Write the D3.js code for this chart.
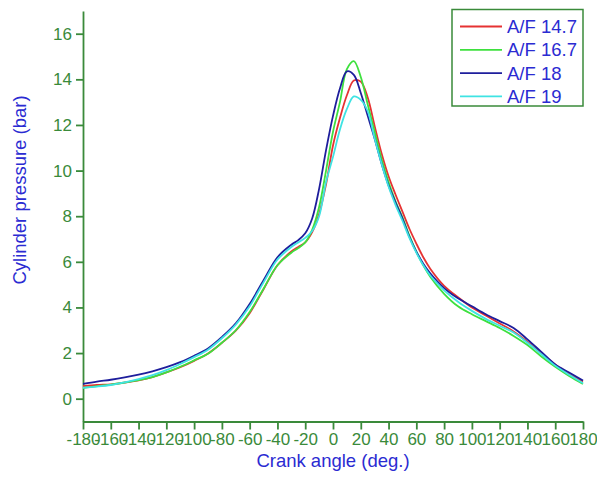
<!DOCTYPE html>
<html>
  <head>
    <meta charset="utf-8">
    <title>Cylinder pressure vs crank angle</title>
    <script src="https://d3js.org/d3.v7.min.js"></script>
    <style>
      body { margin: 0; background: #fff; }
      text { font-family: "Liberation Sans", Arial, sans-serif; }
    </style>
  </head>
  <body>
    <div id="chart"></div>
    <script>
    // crank angle grid (deg.)
    const angles = [-180,-170,-160,-150,-140,-130,-120,-110,-100,-90,-80,-70,-60,-50,-40,-30,-25,-20,-15,-10,-5,0,5,10,15,20,25,30,35,40,45,50,55,60,65,70,80,90,100,110,120,130,140,150,160,170,180];

    // cylinder pressure (bar)
    const af147 = [0.55,0.6,0.63,0.7,0.8,0.95,1.15,1.38,1.66,1.98,2.45,2.98,3.75,4.8,5.85,6.45,6.65,6.85,7.3,8.1,9.4,11.1,12.3,13.3,13.95,13.9,13.2,11.95,10.75,9.75,8.95,8.2,7.45,6.8,6.2,5.7,4.95,4.45,4.0,3.65,3.3,2.95,2.5,2.0,1.5,1.1,0.75];
    const af167 = [0.47,0.55,0.62,0.71,0.81,0.95,1.15,1.4,1.68,1.97,2.45,3.0,3.8,4.82,5.85,6.4,6.6,6.85,7.4,8.4,10.0,11.7,13.0,14.45,14.8,14.1,12.9,11.7,10.5,9.5,8.65,7.95,7.15,6.45,5.85,5.35,4.6,4.05,3.7,3.4,3.1,2.75,2.35,1.85,1.4,1.0,0.65];
    const af18 = [0.65,0.75,0.83,0.93,1.05,1.2,1.38,1.6,1.88,2.2,2.7,3.3,4.15,5.19,6.2,6.75,6.95,7.25,7.9,9.2,10.9,12.4,13.6,14.35,14.2,13.4,12.4,11.4,10.3,9.35,8.6,7.9,7.1,6.45,5.92,5.5,4.85,4.4,4.05,3.7,3.4,3.1,2.6,2.05,1.5,1.15,0.8];
    const af19 = [0.48,0.53,0.6,0.72,0.86,1.03,1.25,1.52,1.82,2.15,2.65,3.25,4.05,5.1,6.1,6.65,6.85,7.05,7.35,8.0,9.5,10.6,11.8,12.7,13.25,13.1,12.6,11.4,10.3,9.3,8.5,7.8,7.05,6.4,5.85,5.4,4.75,4.25,3.85,3.5,3.2,2.9,2.45,1.95,1.45,1.05,0.68];

    const seriesNames = ["A/F 14.7", "A/F 16.7", "A/F 18", "A/F 19"];
    const seriesValues = [af147, af167, af18, af19];
    const seriesColors = ["#e63232", "#3ee03e", "#1e1e9c", "#3fe3e3"];

    const xTicks = d3.range(-180, 181, 20);
    const yTicks = d3.range(0, 17, 2);

    const width = 597, height = 483;
    const axisGreen = "#3a8a3a";
    const titleBlue = "#2b2bd2";

    const svg = d3.select("#chart")
      .append("svg")
      .attr("width", width)
      .attr("height", height);

    const x = d3.scaleLinear().domain([-180, 180]).range([83, 583]);
    const y = d3.scaleLinear().domain([-1, 17]).range([421.5, 10.9]);

    // x axis (plain hyphen for negatives, as in the picture)
    const xAxis = svg.append("g")
      .attr("transform", "translate(0," + y(-1) + ")")
      .call(d3.axisBottom(x).tickValues(xTicks).tickFormat(d => String(d))
        .tickSize(8).tickPadding(3).tickSizeOuter(0));
    xAxis.selectAll("text")
      .attr("font-size", 17)
      .attr("fill", axisGreen)
      .attr("font-family", "Liberation Sans, Arial, sans-serif");

    // y axis
    const yAxis = svg.append("g")
      .attr("transform", "translate(" + x(-180) + ",0)")
      .call(d3.axisLeft(y).tickValues(yTicks).tickFormat(d => String(d))
        .tickSize(7).tickPadding(4).tickSizeOuter(0));
    yAxis.selectAll("text")
      .attr("font-size", 17)
      .attr("fill", axisGreen)
      .attr("font-family", "Liberation Sans, Arial, sans-serif");

    svg.selectAll(".domain, .tick line")
      .attr("stroke", axisGreen)
      .attr("stroke-width", 1.8);

    // axis titles
    svg.append("text")
      .attr("x", (x(-180) + x(180)) / 2)
      .attr("y", 467)
      .attr("text-anchor", "middle")
      .attr("font-size", 18.5)
      .attr("fill", titleBlue)
      .text("Crank angle (deg.)");

    svg.append("text")
      .attr("transform", "translate(26,190) rotate(-90)")
      .attr("text-anchor", "middle")
      .attr("font-size", 18.5)
      .attr("fill", titleBlue)
      .text("Cylinder pressure (bar)");

    // curves
    const line = d3.line()
      .x((d, i) => x(angles[i]))
      .y(d => y(d))
      .curve(d3.curveCatmullRom.alpha(0.5));

    seriesValues.forEach((vals, k) => {
      svg.append("path")
        .datum(vals)
        .attr("fill", "none")
        .attr("stroke", seriesColors[k])
        .attr("stroke-width", 1.8)
        .attr("stroke-linejoin", "round")
        .attr("d", line);
    });

    // legend
    const legend = svg.append("g");
    legend.append("rect")
      .attr("x", 452).attr("y", 9.5)
      .attr("width", 131).attr("height", 96.5)
      .attr("fill", "#fff")
      .attr("stroke", axisGreen)
      .attr("stroke-width", 1.5);

    seriesNames.forEach((name, i) => {
      const ly = 26.5 + i * 23.3;
      legend.append("line")
        .attr("x1", 460).attr("x2", 502)
        .attr("y1", ly).attr("y2", ly)
        .attr("stroke", seriesColors[i])
        .attr("stroke-width", 1.8);
      legend.append("text")
        .attr("x", 507)
        .attr("y", ly)
        .attr("dy", "0.36em")
        .attr("font-size", 18.5)
        .attr("fill", titleBlue)
        .text(name);
    });
    </script>
  </body>
</html>
